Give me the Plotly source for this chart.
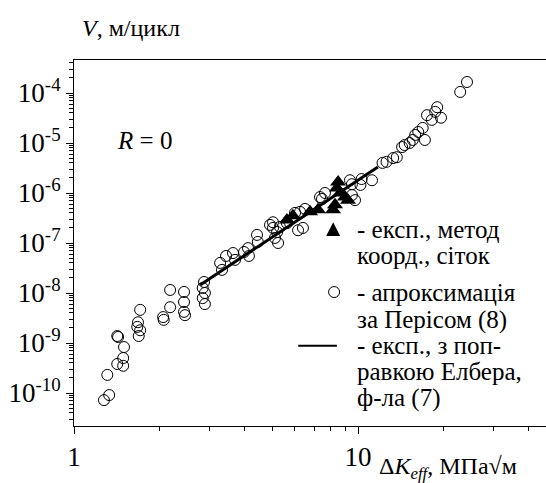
import plotly.graph_objects as go

# ---- data ----
circ_x = [1.275, 1.33, 1.31, 1.42, 1.49, 1.49, 1.43, 1.42, 1.50,
          1.71, 1.68, 1.67, 1.71, 1.69, 2.06, 2.07, 2.18, 2.18,
          2.44, 2.44, 2.44, 2.46, 2.87, 2.84, 2.89, 2.84, 2.89,
          3.27, 3.32, 3.43, 3.63, 3.69, 3.97, 4.10, 4.13, 4.41, 4.44,
          4.90, 5.02, 5.10, 5.23, 5.02, 5.19, 5.62, 6.0, 6.25, 6.40,
          6.15, 6.51, 5.31, 7.35, 7.65, 7.47, 9.37, 9.52, 10.2, 11.2,
          9.52, 9.76, 10.3,
          12.2, 12.6, 13.3, 13.7, 14.3, 14.6, 15.2, 15.6, 15.9, 16.3,
          16.9, 17.2, 17.5, 18.2, 18.7, 19.0, 19.6, 22.9, 24.2]
circ_y = [7.2e-11, 9.1e-11, 2.3e-10, 3.8e-10, 3.5e-10, 5.0e-10, 1.32e-9, 1.38e-9, 8.3e-10,
          4.6e-9, 2.6e-9, 2.1e-9, 1.8e-9, 1.38e-9, 3.3e-9, 2.9e-9, 1.15e-8, 5.2e-9,
          1.05e-8, 6.6e-9, 4.2e-9, 3.6e-9, 1.66e-8, 1.26e-8, 1.0e-8, 7.9e-9, 6.0e-9,
          4.0e-8, 2.9e-8, 5.5e-8, 6.3e-8, 4.6e-8, 6.6e-8, 7.9e-8, 5.5e-8, 1.45e-7, 1.05e-7,
          2.3e-7, 2.0e-7, 1.26e-7, 1.0e-7, 2.6e-7, 1.66e-7, 2.5e-7, 4.0e-7, 4.2e-7, 2.0e-7,
          1.8e-7, 4.8e-7, 2.1e-7, 8.3e-7, 1.0e-6, 7.6e-7, 1.8e-6, 1.5e-6, 1.45e-6, 1.8e-6,
          9.1e-7, 7.2e-7, 1.9e-6,
          4.0e-6, 4.2e-6, 5.0e-6, 5.2e-6, 8.3e-6, 9.1e-6, 1.0e-5, 1.15e-5, 1.45e-5, 1.66e-5,
          2.0e-5, 1.15e-5, 3.6e-5, 2.9e-5, 4.2e-5, 5.2e-5, 3.2e-5, 1.05e-4, 1.66e-4]

tri_x = [5.62, 5.90, 6.78, 7.23, 8.51, 8.43, 8.65, 9.0, 9.22, 8.30, 8.17]
tri_y = [2.9e-7, 3.5e-7, 4.2e-7, 4.6e-7, 1.66e-6, 1.26e-6, 1.0e-6, 8.3e-7, 7.2e-7, 5.8e-7, 4.6e-7]

line_x = [2.78, 11.75]
line_y = [1.45e-8, 3.3e-6]

y_tick_vals = [1e-10, 1e-9, 1e-8, 1e-7, 1e-6, 1e-5, 1e-4]
y_tick_text = ["10<sup>-10</sup>", "10<sup>-9</sup>", "10<sup>-8</sup>", "10<sup>-7</sup>",
               "10<sup>-6</sup>", "10<sup>-5</sup>", "10<sup>-4</sup>"]
x_tick_vals = [1, 10, 100]
x_tick_text = ["1", "10", "100"]

legend_lines = [
    ["- експ., метод", "коорд., сіток"],
    ["- апроксимація", "за Перісом (8)"],
    ["- експ., з поп-", "равкою Елбера,", "ф-ла (7)"],
]

FONT = "Liberation Serif"

fig = go.Figure()
fig.add_trace(go.Scatter(x=circ_x, y=circ_y, mode="markers",
                         marker=dict(symbol="circle-open", size=11,
                                     color="black", line=dict(width=1, color="black"))))
fig.add_trace(go.Scatter(x=line_x, y=line_y, mode="lines",
                         line=dict(color="black", width=3)))
fig.add_trace(go.Scatter(x=tri_x, y=tri_y, mode="markers",
                         marker=dict(symbol="triangle-up", size=14, color="black",
                                     line=dict(width=0))))

fig.update_layout(
    width=546, height=483,
    margin=dict(l=74, r=0, t=60, b=57),
    paper_bgcolor="white", plot_bgcolor="white",
    showlegend=False,
    font=dict(family=FONT, color="black", size=24),
    xaxis=dict(type="log", range=[0, 1.662], showline=True, linecolor="black", linewidth=1,
               mirror=True, ticks="outside", ticklen=7, tickcolor="black",
               tickvals=x_tick_vals, ticktext=x_tick_text,
               tickfont=dict(size=27, family=FONT, color="black"),
               showgrid=False, zeroline=False,
               minor=dict(dtick="D1", ticks="outside", ticklen=4, tickcolor="black", showgrid=False)),
    yaxis=dict(type="log", range=[-10.66, -3.34], showline=True, linecolor="black", linewidth=1,
               ticks="outside", ticklen=7, tickcolor="black",
               tickvals=y_tick_vals, ticktext=y_tick_text,
               tickfont=dict(size=27, family=FONT, color="black"),
               showgrid=False, zeroline=False,
               minor=dict(dtick="D1", ticks="outside", ticklen=4, tickcolor="black", showgrid=False)),
)

# legend symbols as paper-referenced shapes (plot-area fractions)
shapes = [
    dict(type="path", xref="paper", yref="paper",
         path="M 0.5343 0.5190 L 0.5639 0.5190 L 0.5491 0.5570 Z",
         fillcolor="black", line=dict(width=0)),
    dict(type="circle", xref="paper", yref="paper",
         x0=0.5394, x1=0.5627, y0=0.3510, y1=0.3810,
         fillcolor="rgba(0,0,0,0)", line=dict(color="black", width=1)),
    dict(type="line", xref="paper", yref="paper", x0=0.475, x1=0.557, y0=0.219, y1=0.219,
         line=dict(color="black", width=2)),
]
fig.update_layout(shapes=shapes)

annos = []
annos.append(dict(text="<i>V</i>, м/цикл", x=0.0127, y=1.087, xref="paper", yref="paper",
                  xanchor="left", yanchor="middle", showarrow=False,
                  font=dict(size=24, family=FONT, color="black")))
annos.append(dict(text="<i>R</i> = 0", x=0.0869, y=0.779, xref="paper", yref="paper",
                  xanchor="left", yanchor="middle", showarrow=False,
                  font=dict(size=25, family=FONT, color="black")))
annos.append(dict(text="Δ<i>K</i><sub><i>eff</i></sub>, МПа√м", x=0.642, y=-0.115, xref="paper",
                  yref="paper", xanchor="left", yanchor="middle", showarrow=False,
                  font=dict(size=24, family=FONT, color="black")))
leg_y = [[0.538, 0.467], [0.366, 0.290], [0.219, 0.148, 0.0765]]
for lines, ys in zip(legend_lines, leg_y):
    for t, yy in zip(lines, ys):
        annos.append(dict(text=t, x=0.5953, y=yy, xref="paper", yref="paper",
                          xanchor="left", yanchor="middle", showarrow=False,
                          font=dict(size=25, family=FONT, color="black")))
fig.update_layout(annotations=annos)

fig.write_html("out.html")
